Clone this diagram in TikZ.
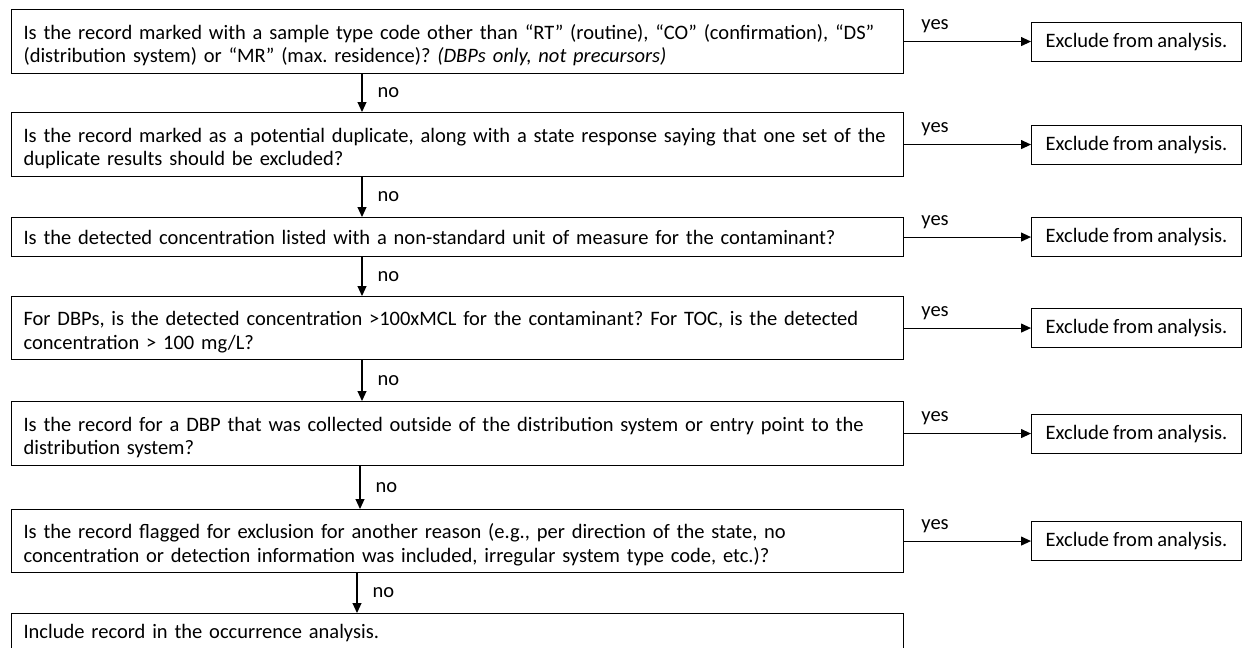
\documentclass[tikz,border=0pt]{standalone}
\usepackage{fontspec}
\setmainfont{Carlito}[WordSpace={0.85,0,0}]
\usetikzlibrary{arrows.meta}
\newcommand{\qfont}{\fontsize{20.5pt}{23.5pt}\selectfont\frenchspacing}
\begin{document}
\begin{tikzpicture}[x=1pt,y=-1pt,
  qbox/.style={draw, line width=1.1pt, anchor=north west, text width=868pt, align=left, inner xsep=12pt, inner ysep=0pt, font=\qfont},
  twoline/.style={execute at begin node={\rule{0pt}{22pt}}},
  xbox/.style={draw, line width=1.1pt, anchor=west, minimum width=210pt, minimum height=39pt, inner xsep=8pt, inner ysep=0pt, font=\qfont},
  arr/.style={line width=1.1pt, -{Triangle[length=10pt,width=9pt]}},
  lab/.style={font=\qfont, inner sep=0pt}]
\useasboundingbox (0,0) rectangle (1243,648);
\clip (0,0) rectangle (1243,648);
\fill[white] (0,0) rectangle (1243,648);
% question boxes
\node[qbox, twoline, minimum height=64pt] (b1) at (11,9) {\mbox{Is the record marked with a sample type code other than “RT” (routine), “CO” (confirmation), “DS”}\\(distribution system) or “MR” (max. residence)? \textit{(DBPs only, not precursors)}};
\node[qbox, twoline, minimum height=64pt] (b2) at (11,112) {\mbox{Is the record marked as a potential duplicate, along with a state response saying that one set of the}\\duplicate results should be excluded?};
\node[qbox, minimum height=39pt] (b3) at (11,217) {\mbox{Is the detected concentration listed with a non-standard unit of measure for the contaminant?}};
\node[qbox, twoline, minimum height=63pt] (b4) at (11,296) {\mbox{For DBPs, is the detected concentration >100xMCL for the contaminant? For TOC, is the detected}\\concentration > 100 mg/L?};
\node[qbox, twoline, minimum height=64pt] (b5) at (11,401) {\mbox{Is the record for a DBP that was collected outside of the distribution system or entry point to the}\\distribution system?};
\node[qbox, twoline, minimum height=63pt] (b6) at (11,509) {\mbox{Is the record flagged for exclusion for another reason (e.g., per direction of the state, no}\\\mbox{concentration or detection information was included, irregular system type code, etc.)?}};
\node[qbox, minimum height=39pt] (b7) at (11,613) {Include record in the occurrence analysis.};
% exclude boxes
\coordinate (rx) at (1031,0);
\node[xbox] (e1) at (b1.east -| rx) {Exclude from analysis.};
\node[xbox] (e2) at (b2.east -| rx) {Exclude from analysis.};
\node[xbox] (e3) at (b3.east -| rx) {Exclude from analysis.};
\node[xbox] (e4) at (b4.east -| rx) {Exclude from analysis.};
\node[xbox] (e5) at (b5.east -| rx) {Exclude from analysis.};
\node[xbox] (e6) at (b6.east -| rx) {Exclude from analysis.};
% yes arrows
\foreach \i in {1,...,6}{
  \draw[arr] (b\i.east) -- (e\i.west);
  \node[lab] (y\i) at ([xshift=31pt,yshift=15pt]b\i.east) {yes};
}
% no arrows
\coordinate (v1) at (362,0);
\coordinate (v2) at (362,0);
\coordinate (v3) at (362,0);
\coordinate (v4) at (362,0);
\coordinate (v5) at (360,0);
\coordinate (v6) at (357,0);
\draw[arr] (b1.south -| v1) -- node[lab, right=15pt] (n1) {no} (b2.north -| v1);
\draw[arr] (b2.south -| v2) -- node[lab, right=15pt] (n2) {no} (b3.north -| v2);
\draw[arr] (b3.south -| v3) -- node[lab, right=15pt] (n3) {no} (b4.north -| v3);
\draw[arr] (b4.south -| v4) -- node[lab, right=15pt] (n4) {no} (b5.north -| v4);
\draw[arr] (b5.south -| v5) -- node[lab, right=15pt] (n5) {no} (b6.north -| v5);
\draw[arr] (b6.south -| v6) -- node[lab, right=15pt] (n6) {no} (b7.north -| v6);
\end{tikzpicture}
\end{document}
